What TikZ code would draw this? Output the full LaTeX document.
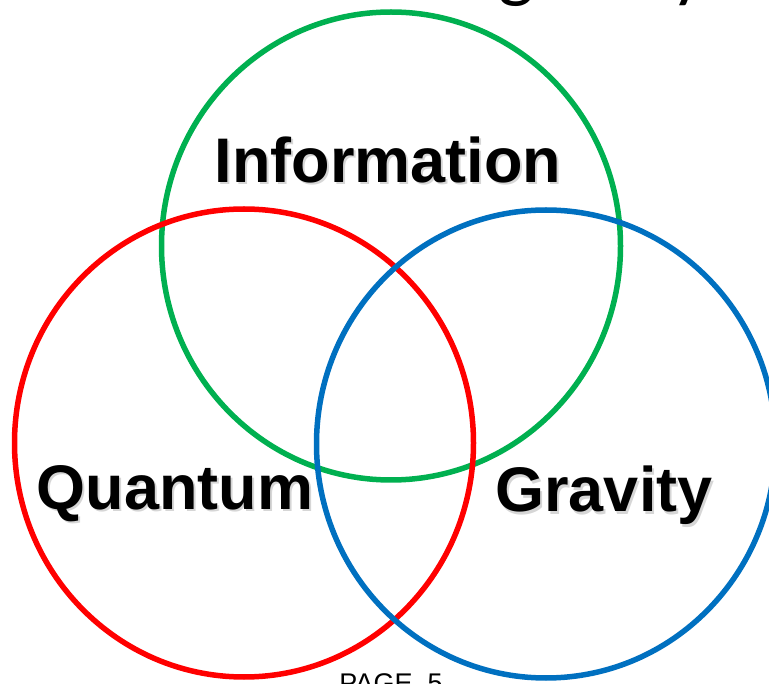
\documentclass[tikz,border=0pt]{standalone}
\usepackage{fontspec}
\setmainfont{Liberation Sans}
\newfontfamily\titlefont{Carlito}
\usetikzlibrary{positioning, shapes.geometric}
\definecolor{vgreen}{HTML}{00B050}
\definecolor{vred}{HTML}{FF0000}
\definecolor{vblue}{HTML}{0070C0}
\newcommand{\shadowtxt}[1]{\makebox[0pt][l]{\hspace{2pt}\raisebox{-2pt}{\textcolor{black!16}{#1}}}#1}
\tikzset{
  ring/.style={draw, ellipse, line width=5.5pt, inner sep=0pt, minimum width=459pt, minimum height=468pt},
  lbl/.style={font=\fontsize{63}{63}\selectfont\bfseries, inner sep=0pt, anchor=base},
  pagenum/.style={font=\fontsize{27}{27}\selectfont, inner sep=0pt, anchor=base}
}
\begin{document}
\begin{tikzpicture}[x=1pt, y=-1pt]
        \useasboundingbox (0,0) rectangle (769,684);
        \clip (0,0) rectangle (769,684);
        \fill[white] (0,0) rectangle (769,684);
        % slide title, mostly off the page
        \node[font=\titlefont\fontsize{76}{76}\selectfont, inner sep=0pt, anchor=base east] (title) at (706,-6) {Information and gravity};
        % the three sets
        \node[ring, draw=vgreen] (info) at (391,246) {};
        \node[ring, draw=vred] (quant) at (244,443) {};
        \node[ring, draw=vblue] (grav) at (546,444) {};
        \node[lbl] (infolbl) at (388,183) {\shadowtxt{Information}};
        \node[lbl] (quantlbl) at (175,510) {\shadowtxt{Quantum}};
        \node[lbl] (gravlbl) at (604,512) {\shadowtxt{Gravity}};
        \node[pagenum] (page) at (391,692) {PAGE\ \ 5};
      \end{tikzpicture}
\end{document}
